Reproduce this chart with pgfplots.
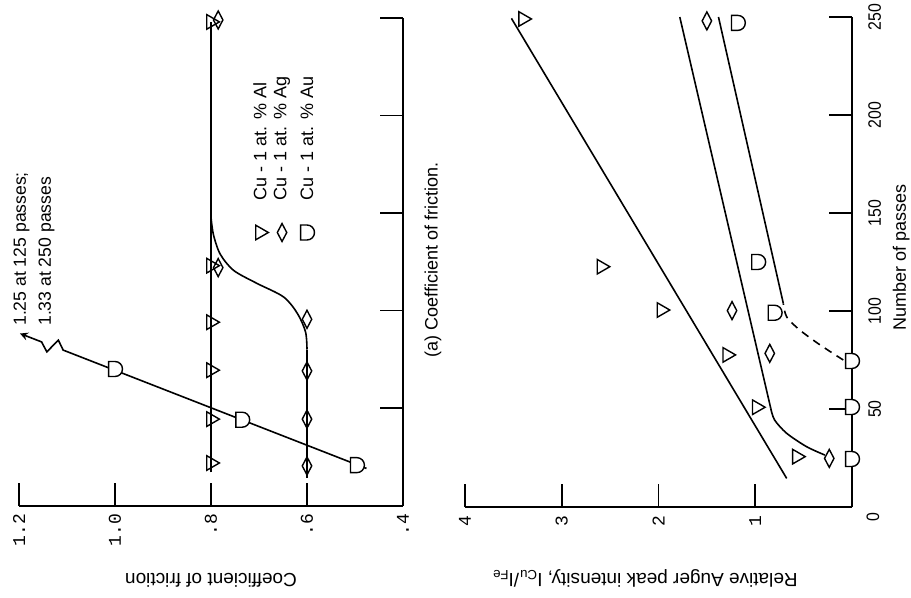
\documentclass[border=0pt]{standalone}
\usepackage{fontspec}
\setmainfont{Liberation Sans}
\setmonofont{Liberation Mono}
\newfontfamily\cond{Liberation Sans}[FakeStretch=0.88]
\usepackage{pgfplots}
\pgfplotsset{compat=1.18}

% D-shaped open symbol (flat side left, round side right)
\pgfdeclareplotmark{dee}{%
  \pgfpathmoveto{\pgfqpoint{-0.85\pgfplotmarksize}{-\pgfplotmarksize}}%
  \pgfpathlineto{\pgfqpoint{-0.85\pgfplotmarksize}{\pgfplotmarksize}}%
  \pgfpathlineto{\pgfqpoint{0pt}{\pgfplotmarksize}}%
  \pgfpatharc{90}{-90}{\pgfplotmarksize}%
  \pgfpathclose
  \pgfusepathqfillstroke
}

\pgfplotsset{
  panel/.style={
    scale only axis, clip=false, x dir=reverse,
    axis x line*=bottom, axis y line*=right,
    axis line style={line width=1bp, black},
    tick style={line width=0.9bp, black},
    tick align=inside, major tick length=11.5bp,
    ymin=0, ymax=250, ytick={50,100,150,200,250},
  },
  ln/.style={black, line width=0.8bp, no marks},
  tri/.style={only marks, mark=triangle, mark size=4.2bp,
    mark options={rotate=-90, fill=white, line width=0.7bp}},
  dia/.style={only marks, mark=diamond, mark size=4.5bp,
    mark options={xscale=0.7, fill=white, line width=0.7bp}},
  dd/.style={only marks, mark=dee, mark size=3.75bp,
    mark options={fill=white, line width=0.7bp}},
}

\begin{document}
\begin{tikzpicture}
\path[use as bounding box] (0,0) rectangle (455.5bp,-299bp);

% (a) coefficient of friction
\begin{axis}[panel,
  at={(105.5bp,-130.875bp)}, anchor=center,
  width=192bp, height=243.75bp,
  xmin=0.4, xmax=1.2,
  xtick={0.4,0.6,0.8,1.0,1.2}, xticklabels={.4,.6,.8,1.0,1.2},
  xticklabel style={rotate=90, anchor=east, inner xsep=4bp,
    font=\ttfamily\fontsize{9bp}{10bp}\selectfont},
  yticklabel=\empty,
  xlabel={Coefficient of friction},
  every axis x label/.style={at={(axis description cs:0.5,-0.153)},
    rotate=180, anchor=center, font=\fontsize{9.5bp}{11bp}\selectfont},
]
% Al
\addplot[ln] coordinates {(0.8,17) (0.8,248)};
% Ag
\addplot[ln] coordinates {(0.6,14) (0.6,80)};
\addplot[ln, smooth] coordinates {
  (0.6,80) (0.603,89) (0.62,98.5) (0.649,107) (0.705,114)
  (0.753,120.6) (0.781,129) (0.795,139) (0.8,148)};
% Au, off scale above 1.2
\addplot[ln, -stealth] coordinates {
  (0.476,19) (1.108,79.7) (1.118,84.8) (1.142,78.8) (1.153,83.9) (1.198,88.2)};

\addplot[tri] coordinates {(0.8,21.8) (0.8,44.3) (0.8,69.4) (0.8,94) (0.8,123) (0.8,248)};
\addplot[dia] coordinates {(0.6,20.3) (0.6,44.3) (0.6,69) (0.6,95.5) (0.785,122) (0.785,249)};
\addplot[dd] coordinates {(0.496,20.7) (0.735,44) (1.0,70)};

% key
\addplot[tri] coordinates {(0.698,140)};
\addplot[dia] coordinates {(0.652,140)};
\addplot[dd] coordinates {(0.6,140)};
\node[rotate=90, anchor=west, font=\fontsize{9bp}{11bp}\selectfont]
  at (axis cs:0.698,153) {Cu - 1 at. \% Al};
\node[rotate=90, anchor=west, font=\fontsize{9bp}{11bp}\selectfont]
  at (axis cs:0.652,153) {Cu - 1 at. \% Ag};
\node[rotate=90, anchor=west, font=\fontsize{9bp}{11bp}\selectfont]
  at (axis cs:0.6,153) {Cu - 1 at. \% Au};

\node[rotate=90, anchor=south west, align=left, inner sep=0pt,
  font=\fontsize{8.8bp}{12.5bp}\selectfont]
  at (axis cs:1.125,92) {1.25 at 125 passes;\\1.33 at 250 passes};
\end{axis}

\node[rotate=90, font=\fontsize{9bp}{11bp}\selectfont]
  at (216.5bp,-130bp) {(a) Coefficient of friction.};

% relative Auger peak intensity
\begin{axis}[panel,
  at={(329.25bp,-131bp)}, anchor=center,
  width=193.5bp, height=245bp,
  xmin=0, xmax=4,
  xtick={1,2,3,4}, xticklabels={1,2,3,4},
  xticklabel style={rotate=90, anchor=east, inner xsep=4bp,
    font=\ttfamily\fontsize{9bp}{10bp}\selectfont},
  yticklabels={50,100,150,200,250},
  yticklabel style={rotate=90, anchor=north, inner ysep=8bp,
    font=\cond\fontsize{9bp}{10bp}\selectfont},
  xlabel={Relative Auger peak intensity, I\textsubscript{Cu}/I\textsubscript{Fe}},
  every axis x label/.style={at={(axis description cs:0.465,-0.145)},
    rotate=180, anchor=center, font=\fontsize{9.5bp}{11bp}\selectfont},
  ylabel={Number of passes},
  every axis y label/.style={at={(axis description cs:1.127,0.51)},
    rotate=90, anchor=center, font=\fontsize{9bp}{11bp}\selectfont},
]
\addplot[ln] coordinates {(0.675,14.6) (3.52,249.3)};
\addplot[ln, smooth] coordinates {(0.28,26.5) (0.47,30.8) (0.675,37.6) (0.80,44.4) (0.84,50.4)};
\addplot[ln] coordinates {(0.84,50.4) (1.78,250)};
\addplot[ln] coordinates {(0.71,103.9) (1.38,250)};
\addplot[ln, smooth, dash pattern=on 4bp off 3bp] coordinates {
  (0.09,75) (0.33,82.7) (0.54,90.3) (0.675,97) (0.71,103.9)};

\addplot[tri] coordinates {(0.57,25.7) (0.985,50.9) (1.29,77.6) (1.97,100.5) (2.59,122.6) (3.40,249)};
\addplot[dia] coordinates {(0.235,24.8) (0.85,78.4) (1.24,100.2) (1.50,248)};
\addplot[dd] coordinates {(0,24.5) (0,51) (0,74.5) (0.80,99.1) (0.97,125) (1.18,247)};

\node[rotate=90, font=\cond\fontsize{9bp}{10bp}\selectfont]
  at ([xshift=10.5bp,yshift=-5bp]axis cs:0,0) {0};
\end{axis}
\end{tikzpicture}
\end{document}
